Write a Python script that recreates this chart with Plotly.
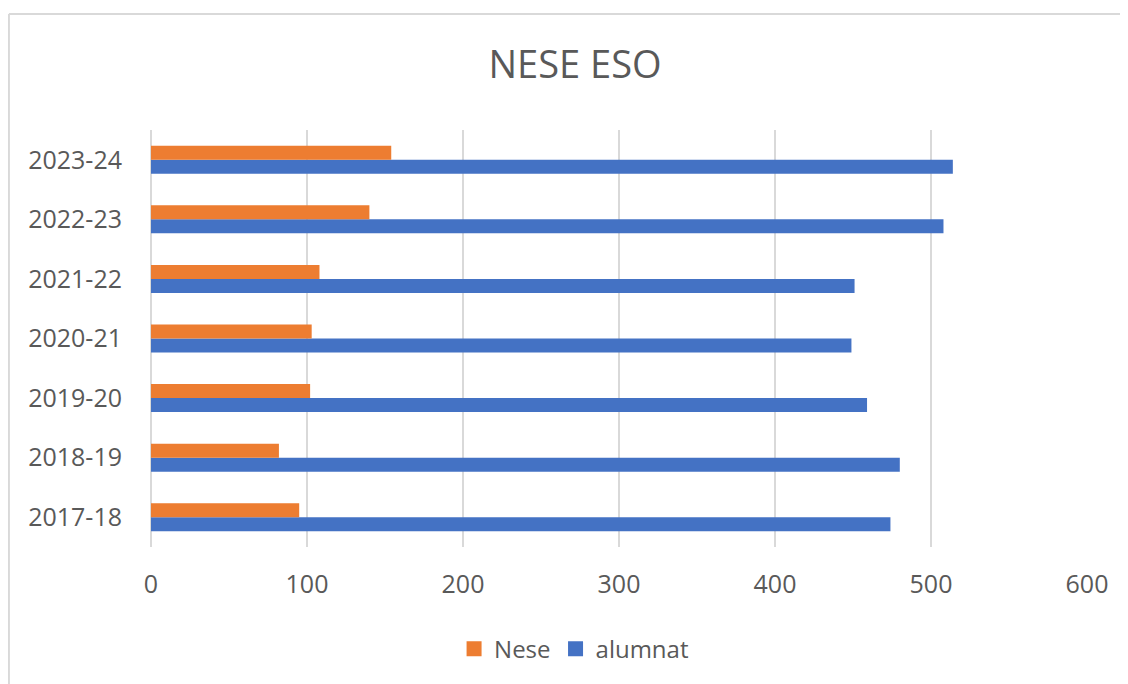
import plotly.graph_objects as go

years = ["2017-18", "2018-19", "2019-20", "2020-21", "2021-22", "2022-23", "2023-24"]
nese = [95, 82, 102, 103, 108, 140, 154]
alumnat = [474, 480, 459, 449, 451, 508, 514]

ORANGE = "#ED7D31"
BLUE = "#4472C4"
GREY_TXT = "#595959"
GRID = "#d9d9d9"
FONT = "Open Sans"

# the page body adds 8px around the figure, so the figure is 8px smaller
W, H = 1120, 676

fig = go.Figure()
# in horizontal groups the first trace sits lowest, so alumnat goes first
fig.add_trace(go.Bar(y=years, x=alumnat, name="alumnat", orientation="h",
                     marker=dict(color=BLUE, line=dict(width=0)),
                     showlegend=False))
fig.add_trace(go.Bar(y=years, x=nese, name="Nese", orientation="h",
                     marker=dict(color=ORANGE, line=dict(width=0)),
                     showlegend=False))

# bigger square legend keys, like the spreadsheet legend
for name, col in [("Nese", ORANGE), ("alumnat", BLUE)]:
    fig.add_trace(go.Scatter(x=[None], y=[None], mode="markers", name=name,
                             marker=dict(symbol="square", size=15, color=col)))

fig.update_layout(
    width=W,
    height=H,
    barmode="group",
    bargap=0.53,
    bargroupgap=0,
    plot_bgcolor="white",
    paper_bgcolor="white",
    font=dict(family=FONT, color=GREY_TXT),
    margin=dict(l=143, r=41, t=122, b=137, autoexpand=False),
    title=dict(
        text="NESE ESO",
        font=dict(size=38, color=GREY_TXT, family=FONT),
        x=567 / W, xref="container", xanchor="center",
        y=1 - 57 / H, yref="container", yanchor="middle",
    ),
    xaxis=dict(
        range=[0, 600],
        dtick=100,
        showgrid=True,
        gridcolor=GRID,
        gridwidth=1.5,
        zeroline=True,
        zerolinecolor=GRID,
        zerolinewidth=1.5,
        showline=False,
        tickfont=dict(size=25, color=GREY_TXT),
        ticklabelstandoff=20,
        fixedrange=True,
    ),
    yaxis=dict(
        showgrid=False,
        showline=False,
        tickfont=dict(size=25, color=GREY_TXT),
        ticklabelstandoff=28,
        fixedrange=True,
    ),
    showlegend=True,
    legend=dict(
        orientation="h",
        x=0.452, xanchor="center",
        y=-0.245, yanchor="middle",
        font=dict(size=24, color=GREY_TXT),
        itemwidth=30,
        tracegroupgap=0,
        bgcolor="rgba(0,0,0,0)",
    ),
    shapes=[
        # chart frame, only top and left edges fall inside the picture
        dict(type="line", xref="paper", yref="paper",
             x0=-0.1518, x1=1.2, y0=1.278, y1=1.278,
             line=dict(color=GRID, width=2), layer="below"),
        dict(type="line", xref="paper", yref="paper",
             x0=-0.1518, x1=-0.1518, y0=1.278, y1=-0.5,
             line=dict(color=GRID, width=2), layer="below"),
    ],
)

fig.write_html("out.html")
